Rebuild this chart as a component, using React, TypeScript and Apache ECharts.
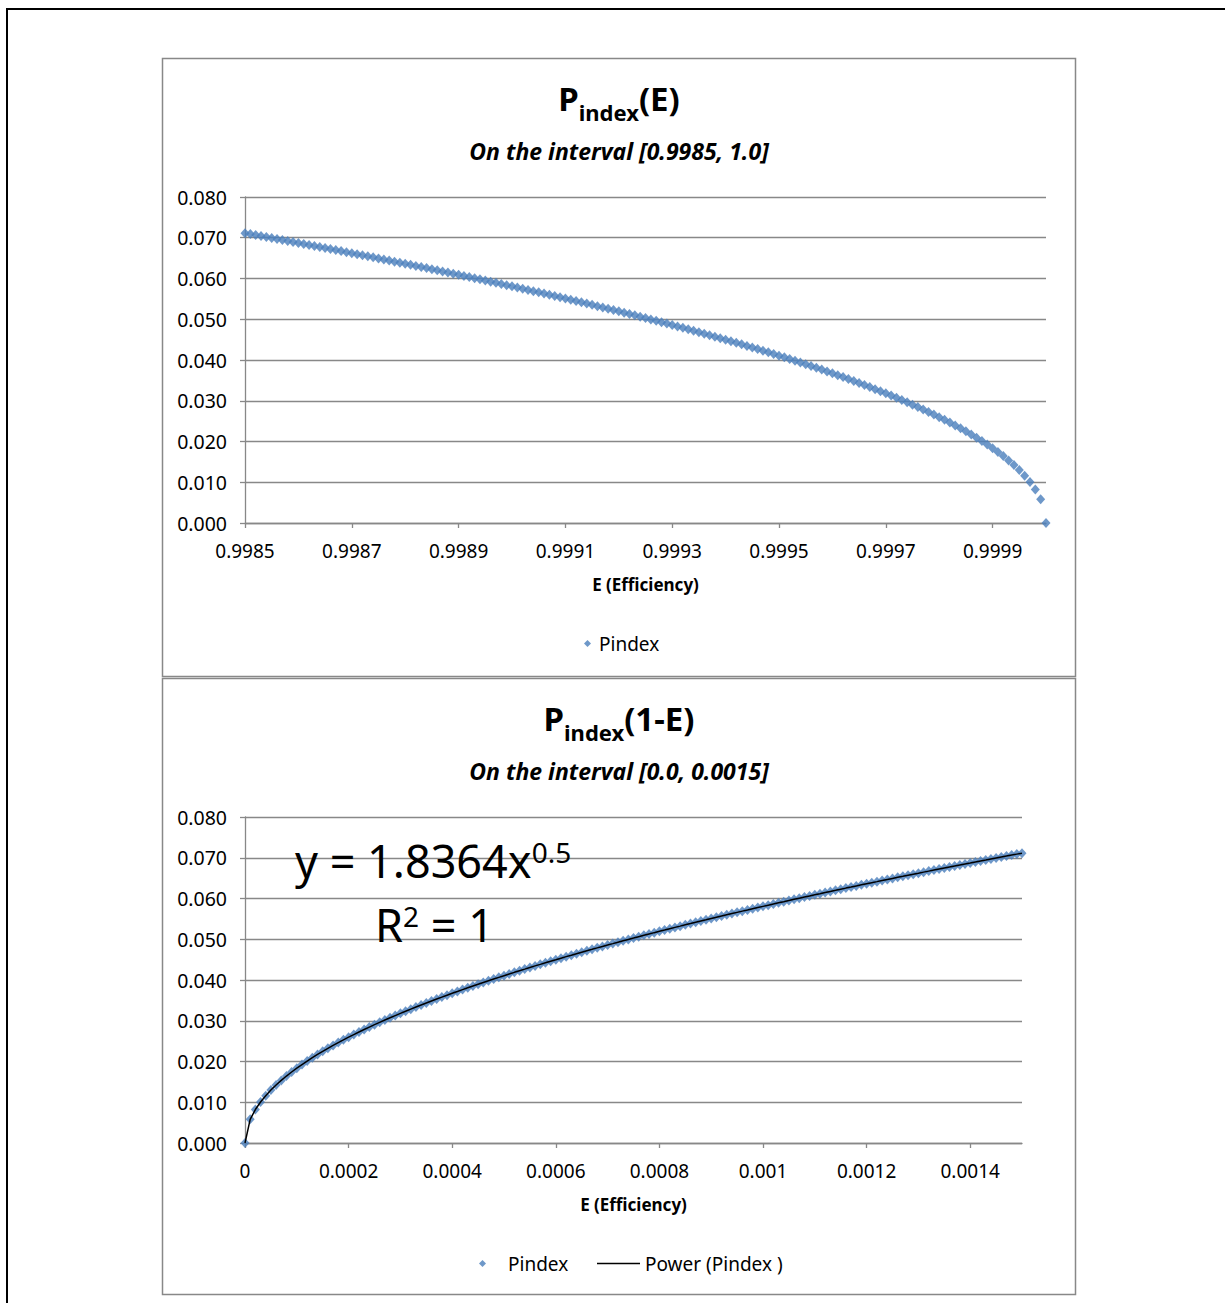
import React, { useEffect, useRef } from "react";
import * as echarts from "echarts";

// 1 - E values (x of lower chart)
const oneMinusE: number[] = [
  0, 0.00001, 0.00002, 0.00003, 0.00004, 0.00005, 0.00006, 0.00007, 0.00008, 0.00009,
  0.0001, 0.00011, 0.00012, 0.00013, 0.00014, 0.00015, 0.00016, 0.00017, 0.00018, 0.00019,
  0.0002, 0.00021, 0.00022, 0.00023, 0.00024, 0.00025, 0.00026, 0.00027, 0.00028, 0.00029,
  0.0003, 0.00031, 0.00032, 0.00033, 0.00034, 0.00035, 0.00036, 0.00037, 0.00038, 0.00039,
  0.0004, 0.00041, 0.00042, 0.00043, 0.00044, 0.00045, 0.00046, 0.00047, 0.00048, 0.00049,
  0.0005, 0.00051, 0.00052, 0.00053, 0.00054, 0.00055, 0.00056, 0.00057, 0.00058, 0.00059,
  0.0006, 0.00061, 0.00062, 0.00063, 0.00064, 0.00065, 0.00066, 0.00067, 0.00068, 0.00069,
  0.0007, 0.00071, 0.00072, 0.00073, 0.00074, 0.00075, 0.00076, 0.00077, 0.00078, 0.00079,
  0.0008, 0.00081, 0.00082, 0.00083, 0.00084, 0.00085, 0.00086, 0.00087, 0.00088, 0.00089,
  0.0009, 0.00091, 0.00092, 0.00093, 0.00094, 0.00095, 0.00096, 0.00097, 0.00098, 0.00099,
  0.001, 0.00101, 0.00102, 0.00103, 0.00104, 0.00105, 0.00106, 0.00107, 0.00108, 0.00109,
  0.0011, 0.00111, 0.00112, 0.00113, 0.00114, 0.00115, 0.00116, 0.00117, 0.00118, 0.00119,
  0.0012, 0.00121, 0.00122, 0.00123, 0.00124, 0.00125, 0.00126, 0.00127, 0.00128, 0.00129,
  0.0013, 0.00131, 0.00132, 0.00133, 0.00134, 0.00135, 0.00136, 0.00137, 0.00138, 0.00139,
  0.0014, 0.00141, 0.00142, 0.00143, 0.00144, 0.00145, 0.00146, 0.00147, 0.00148, 0.00149,
  0.0015,
];

// Pindex values
const pindex: number[] = [
  0, 0.00581, 0.00821, 0.01006, 0.01161, 0.01299, 0.01422, 0.01536, 0.01643, 0.01742,
  0.01836, 0.01926, 0.02012, 0.02094, 0.02173, 0.02249, 0.02323, 0.02394, 0.02464, 0.02531,
  0.02597, 0.02661, 0.02724, 0.02785, 0.02845, 0.02904, 0.02961, 0.03018, 0.03073, 0.03127,
  0.03181, 0.03233, 0.03285, 0.03336, 0.03386, 0.03436, 0.03484, 0.03532, 0.0358, 0.03627,
  0.03673, 0.03718, 0.03764, 0.03808, 0.03852, 0.03896, 0.03939, 0.03981, 0.04023, 0.04065,
  0.04106, 0.04147, 0.04188, 0.04228, 0.04267, 0.04307, 0.04346, 0.04384, 0.04423, 0.04461,
  0.04498, 0.04536, 0.04573, 0.04609, 0.04646, 0.04682, 0.04718, 0.04753, 0.04789, 0.04824,
  0.04859, 0.04893, 0.04928, 0.04962, 0.04996, 0.05029, 0.05063, 0.05096, 0.05129, 0.05162,
  0.05194, 0.05226, 0.05259, 0.05291, 0.05322, 0.05354, 0.05385, 0.05417, 0.05448, 0.05478,
  0.05509, 0.0554, 0.0557, 0.056, 0.0563, 0.0566, 0.0569, 0.05719, 0.05749, 0.05778,
  0.05807, 0.05836, 0.05865, 0.05894, 0.05922, 0.05951, 0.05979, 0.06007, 0.06035, 0.06063,
  0.06091, 0.06118, 0.06146, 0.06173, 0.062, 0.06228, 0.06255, 0.06281, 0.06308, 0.06335,
  0.06362, 0.06388, 0.06414, 0.06441, 0.06467, 0.06493, 0.06519, 0.06544, 0.0657, 0.06596,
  0.06621, 0.06647, 0.06672, 0.06697, 0.06722, 0.06747, 0.06772, 0.06797, 0.06822, 0.06847,
  0.06871, 0.06896, 0.0692, 0.06944, 0.06969, 0.06993, 0.07017, 0.07041, 0.07065, 0.07089,
  0.07112,
];

// E values (x of upper chart)
const eValues: number[] = oneMinusE.map((d) => +(1 - d).toFixed(5));

const topXTicks: number[] = [0.9985, 0.9987, 0.9989, 0.9991, 0.9993, 0.9995, 0.9997, 0.9999];
const bottomXTicks: number[] = [0, 0.0002, 0.0004, 0.0006, 0.0008, 0.001, 0.0012, 0.0014];

const FONT = "'Noto Sans', 'Open Sans', sans-serif";
const GRAY = "#888888";
const BLUE = "#4A7EBB";

function makeYAxis(gridIndex: number) {
  return {
    gridIndex,
    type: "value",
    min: 0,
    max: 0.08,
    interval: 0.01,
    axisLine: { show: true, lineStyle: { color: GRAY, width: 1.3 } },
    axisTick: { show: true, length: 5, lineStyle: { color: GRAY, width: 1.3 } },
    axisLabel: {
      formatter: (v: number) => v.toFixed(3),
      fontSize: 19.5,
      fontFamily: FONT,
      color: "#000",
      margin: 18,
    },
    splitLine: { show: true, lineStyle: { color: GRAY, width: 1.3 } },
  };
}

function makeXAxis(gridIndex: number, min: number, max: number, ticks: number[], fmt: (v: number) => string) {
  return {
    gridIndex,
    type: "value",
    min,
    max,
    axisLine: { show: true, onZero: false, lineStyle: { color: GRAY, width: 1.3 } },
    axisTick: { show: true, length: 5, customValues: ticks, lineStyle: { color: GRAY, width: 1.3 } },
    axisLabel: {
      customValues: ticks,
      formatter: fmt,
      fontSize: 19,
      fontFamily: FONT,
      color: "#000",
      margin: 18,
      showMaxLabel: true,
      showMinLabel: true,
    },
    splitLine: { show: false },
    name: "E (Efficiency)",
    nameLocation: "middle",
    nameGap: 53,
    nameTextStyle: { fontWeight: "bold", fontSize: 17, fontFamily: FONT, color: "#000" },
  };
}

const titleRich = {
  m: { fontSize: 33, fontWeight: "bold", fontFamily: FONT, fill: "#000", lineHeight: 40, verticalAlign: "top" },
  s: { fontSize: 22, fontWeight: "bold", fontFamily: FONT, fill: "#000", lineHeight: 24, verticalAlign: "top", padding: [19, 0, 0, 0] },
};

const eqRich = {
  m: { fontSize: 45, fontFamily: FONT, fill: "#000", lineHeight: 54, verticalAlign: "top" },
  sup: { fontSize: 28, fontFamily: FONT, fill: "#000", lineHeight: 30, verticalAlign: "top" },
};

const legendText = { fontSize: 19, fontFamily: FONT, color: "#000" };

export default function App() {
  const ref = useRef<HTMLDivElement>(null);

  useEffect(() => {
    if (!ref.current) return;
    const chart = echarts.init(ref.current, undefined, { renderer: "svg" });
    const option: any = {
      animation: false,
      backgroundColor: "#ffffff",
      grid: [
        { left: 245, top: 197, width: 801, height: 326 },
        { left: 245, top: 817, width: 777, height: 326 },
      ],
      xAxis: [
        makeXAxis(0, 0.9985, 1.0, topXTicks, (v: number) => v.toFixed(4)),
        makeXAxis(1, 0, 0.0015, bottomXTicks, (v: number) => String(parseFloat(v.toFixed(6)))),
      ],
      yAxis: [makeYAxis(0), makeYAxis(1)],
      legend: [
        {
          data: [{ name: "Pindex", icon: "diamond" }],
          left: 579,
          top: 629,
          itemWidth: 7,
          itemHeight: 7,
          selectedMode: false,
          textStyle: { ...legendText, padding: [0, 0, 0, 3] },
        },
        {
          data: [{ name: "Pindex", icon: "diamond" }],
          left: 474,
          top: 1249,
          itemWidth: 7,
          itemHeight: 7,
          selectedMode: false,
          textStyle: { ...legendText, padding: [0, 0, 0, 17] },
        },
        {
          data: [{ name: "Power (Pindex )", icon: "rect" }],
          left: 592,
          top: 1249,
          itemWidth: 43,
          itemHeight: 1.5,
          selectedMode: false,
          textStyle: legendText,
        },
      ],
      series: [
        {
          name: "Pindex",
          type: "scatter",
          xAxisIndex: 0,
          yAxisIndex: 0,
          symbol: "diamond",
          symbolSize: [9, 10],
          itemStyle: { color: BLUE },
          data: eValues.map((e, i) => [e, pindex[i]]),
          z: 2,
        },
        {
          name: "Pindex",
          type: "scatter",
          xAxisIndex: 1,
          yAxisIndex: 1,
          symbol: "diamond",
          symbolSize: [9, 10],
          itemStyle: { color: BLUE },
          data: oneMinusE.map((x, i) => [x, pindex[i]]),
          z: 2,
        },
        {
          name: "Power (Pindex )",
          type: "line",
          xAxisIndex: 1,
          yAxisIndex: 1,
          symbol: "none",
          showSymbol: false,
          lineStyle: { color: "#000", width: 1.5 },
          itemStyle: { color: "#000" },
          data: oneMinusE.map((x, i) => [x, pindex[i]]),
          z: 3,
        },
      ],
      graphic: [
        // outer frame
        { type: "line", shape: { x1: 7, y1: 9, x2: 1225, y2: 9 }, style: { stroke: "#000", lineWidth: 2 } },
        { type: "line", shape: { x1: 7, y1: 8, x2: 7, y2: 1303 }, style: { stroke: "#000", lineWidth: 2 } },
        // chart boxes
        { type: "rect", shape: { x: 162.5, y: 58.5, width: 913, height: 618 }, style: { fill: "none", stroke: GRAY, lineWidth: 1.5 } },
        { type: "rect", shape: { x: 162.5, y: 678.5, width: 913, height: 616 }, style: { fill: "none", stroke: GRAY, lineWidth: 1.5 } },
        // titles
        {
          type: "text",
          x: 619,
          y: 82,
          style: { text: "{m|P}{s|index}{m|(E)}", align: "center", verticalAlign: "top", rich: titleRich },
        },
        {
          type: "text",
          x: 619,
          y: 151,
          style: {
            text: "On the interval [0.9985, 1.0]",
            align: "center",
            verticalAlign: "middle",
            fontSize: 23,
            fontWeight: "bold",
            fontStyle: "italic",
            fontFamily: FONT,
            fill: "#000",
          },
        },
        {
          type: "text",
          x: 619,
          y: 702,
          style: { text: "{m|P}{s|index}{m|(1-E)}", align: "center", verticalAlign: "top", rich: titleRich },
        },
        {
          type: "text",
          x: 619,
          y: 771,
          style: {
            text: "On the interval [0.0, 0.0015]",
            align: "center",
            verticalAlign: "middle",
            fontSize: 23,
            fontWeight: "bold",
            fontStyle: "italic",
            fontFamily: FONT,
            fill: "#000",
          },
        },
        // trendline equation
        {
          type: "text",
          x: 295,
          y: 838,
          z: 10,
          style: { text: "{m|y = 1.8364x}{sup|0.5}", align: "left", verticalAlign: "top", rich: eqRich },
        },
        {
          type: "text",
          x: 375,
          y: 902,
          z: 10,
          style: { text: "{m|R}{sup|2}{m| = 1}", align: "left", verticalAlign: "top", rich: eqRich },
        },
      ],
    };
    chart.setOption(option);
    return () => chart.dispose();
  }, []);

  return (
    <div style={{ position: "fixed", left: 0, top: 0, width: 1225, height: 1303, overflow: "hidden", background: "#fff" }}>
      <div ref={ref} style={{ width: 1225, height: 1303 }} />
    </div>
  );
}
